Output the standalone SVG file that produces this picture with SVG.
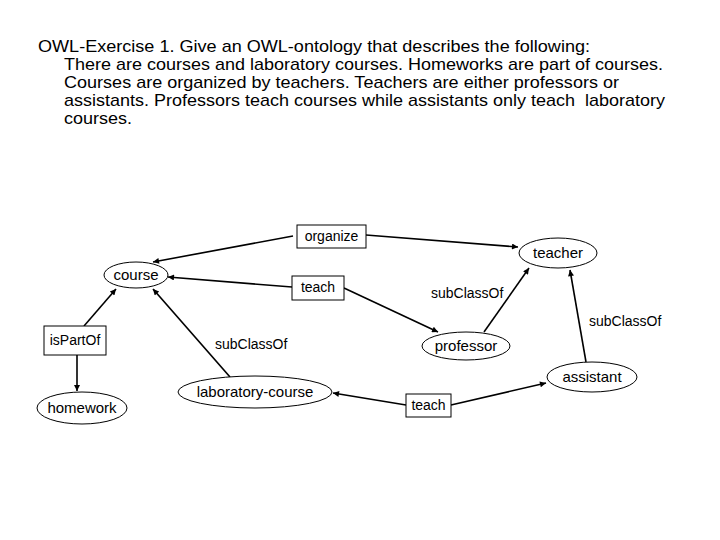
<svg xmlns="http://www.w3.org/2000/svg" width="720" height="540" viewBox="0 0 720 540">
<style>
text{font-family:"Liberation Sans",Arial,sans-serif;fill:#000}
.t{font-size:17px}
.n{font-size:15px;text-anchor:middle}
.b{font-size:14px;text-anchor:middle}
.l{font-size:14px}
.node ellipse,.node rect{fill:#fff;stroke:#000;stroke-width:1}
.e line{stroke:#000;stroke-width:1.6}
</style>
<defs>
<marker id="ah" viewBox="0 0 10 10" refX="10" refY="5" markerWidth="8" markerHeight="6" markerUnits="userSpaceOnUse" orient="auto">
<path d="M0,0L10,5L0,10z" fill="#000"/>
</marker>
</defs>
<rect width="720" height="540" fill="#fff"/>
<g id="title">
<text class="t" x="38" y="52" textLength="552" lengthAdjust="spacingAndGlyphs">OWL-Exercise 1. Give an OWL-ontology that describes the following:</text>
<text class="t" x="64" y="70" textLength="599" lengthAdjust="spacingAndGlyphs">There are courses and laboratory courses. Homeworks are part of courses.</text>
<text class="t" x="64" y="88" textLength="555" lengthAdjust="spacingAndGlyphs">Courses are organized by teachers. Teachers are either professors or</text>
<text class="t" x="64" y="106" textLength="601" lengthAdjust="spacingAndGlyphs" xml:space="preserve">assistants. Professors teach courses while assistants only teach  laboratory</text>
<text class="t" x="64" y="124" textLength="68" lengthAdjust="spacingAndGlyphs">courses.</text>
</g>
<g id="connectors" class="e">
<line x1="293" y1="236" x2="153" y2="262" marker-end="url(#ah)"/>
<line x1="366" y1="235" x2="518" y2="247" marker-end="url(#ah)"/>
<line x1="292" y1="287" x2="168" y2="277" marker-end="url(#ah)"/>
<line x1="344" y1="288" x2="438" y2="332" marker-end="url(#ah)"/>
<line x1="484" y1="332" x2="529" y2="268" marker-end="url(#ah)"/>
<line x1="586" y1="362" x2="570" y2="270" marker-end="url(#ah)"/>
<line x1="230" y1="377" x2="153" y2="289" marker-end="url(#ah)"/>
<line x1="84" y1="326" x2="116" y2="289" marker-end="url(#ah)"/>
<line x1="77" y1="355" x2="77" y2="391" marker-end="url(#ah)"/>
<line x1="406" y1="405" x2="333" y2="393" marker-end="url(#ah)"/>
<line x1="451" y1="405" x2="546" y2="383" marker-end="url(#ah)"/>
<text class="l" x="431" y="298">subClassOf</text>
<text class="l" x="589" y="326">subClassOf</text>
<text class="l" x="215" y="349">subClassOf</text>
</g>
<g id="course" class="node"><ellipse cx="136" cy="275" rx="32" ry="13"/><text class="n" x="136" y="280">course</text></g>
<g id="organize" class="node"><rect x="297" y="225" width="69" height="23"/><text class="b" x="331.5" y="241">organize</text></g>
<g id="teach1" class="node"><rect x="292" y="276" width="52" height="24"/><text class="b" x="318" y="292">teach</text></g>
<g id="teacher" class="node"><ellipse cx="558" cy="253" rx="39" ry="15"/><text class="n" x="558" y="258">teacher</text></g>
<g id="professor" class="node"><ellipse cx="466" cy="346" rx="44" ry="14"/><text class="n" x="466" y="351">professor</text></g>
<g id="assistant" class="node"><ellipse cx="592" cy="377" rx="45" ry="15"/><text class="n" x="592" y="382">assistant</text></g>
<g id="teach2" class="node"><rect x="406" y="394" width="45" height="23"/><text class="b" x="428.5" y="410">teach</text></g>
<g id="laboratory-course" class="node"><ellipse cx="255" cy="392" rx="77" ry="16"/><text class="n" x="255" y="397">laboratory-course</text></g>
<g id="isPartOf" class="node"><rect x="44" y="326" width="62" height="29"/><text class="b" x="75" y="345">isPartOf</text></g>
<g id="homework" class="node"><ellipse cx="82" cy="408" rx="45" ry="16"/><text class="n" x="82" y="413">homework</text></g>
</svg>
